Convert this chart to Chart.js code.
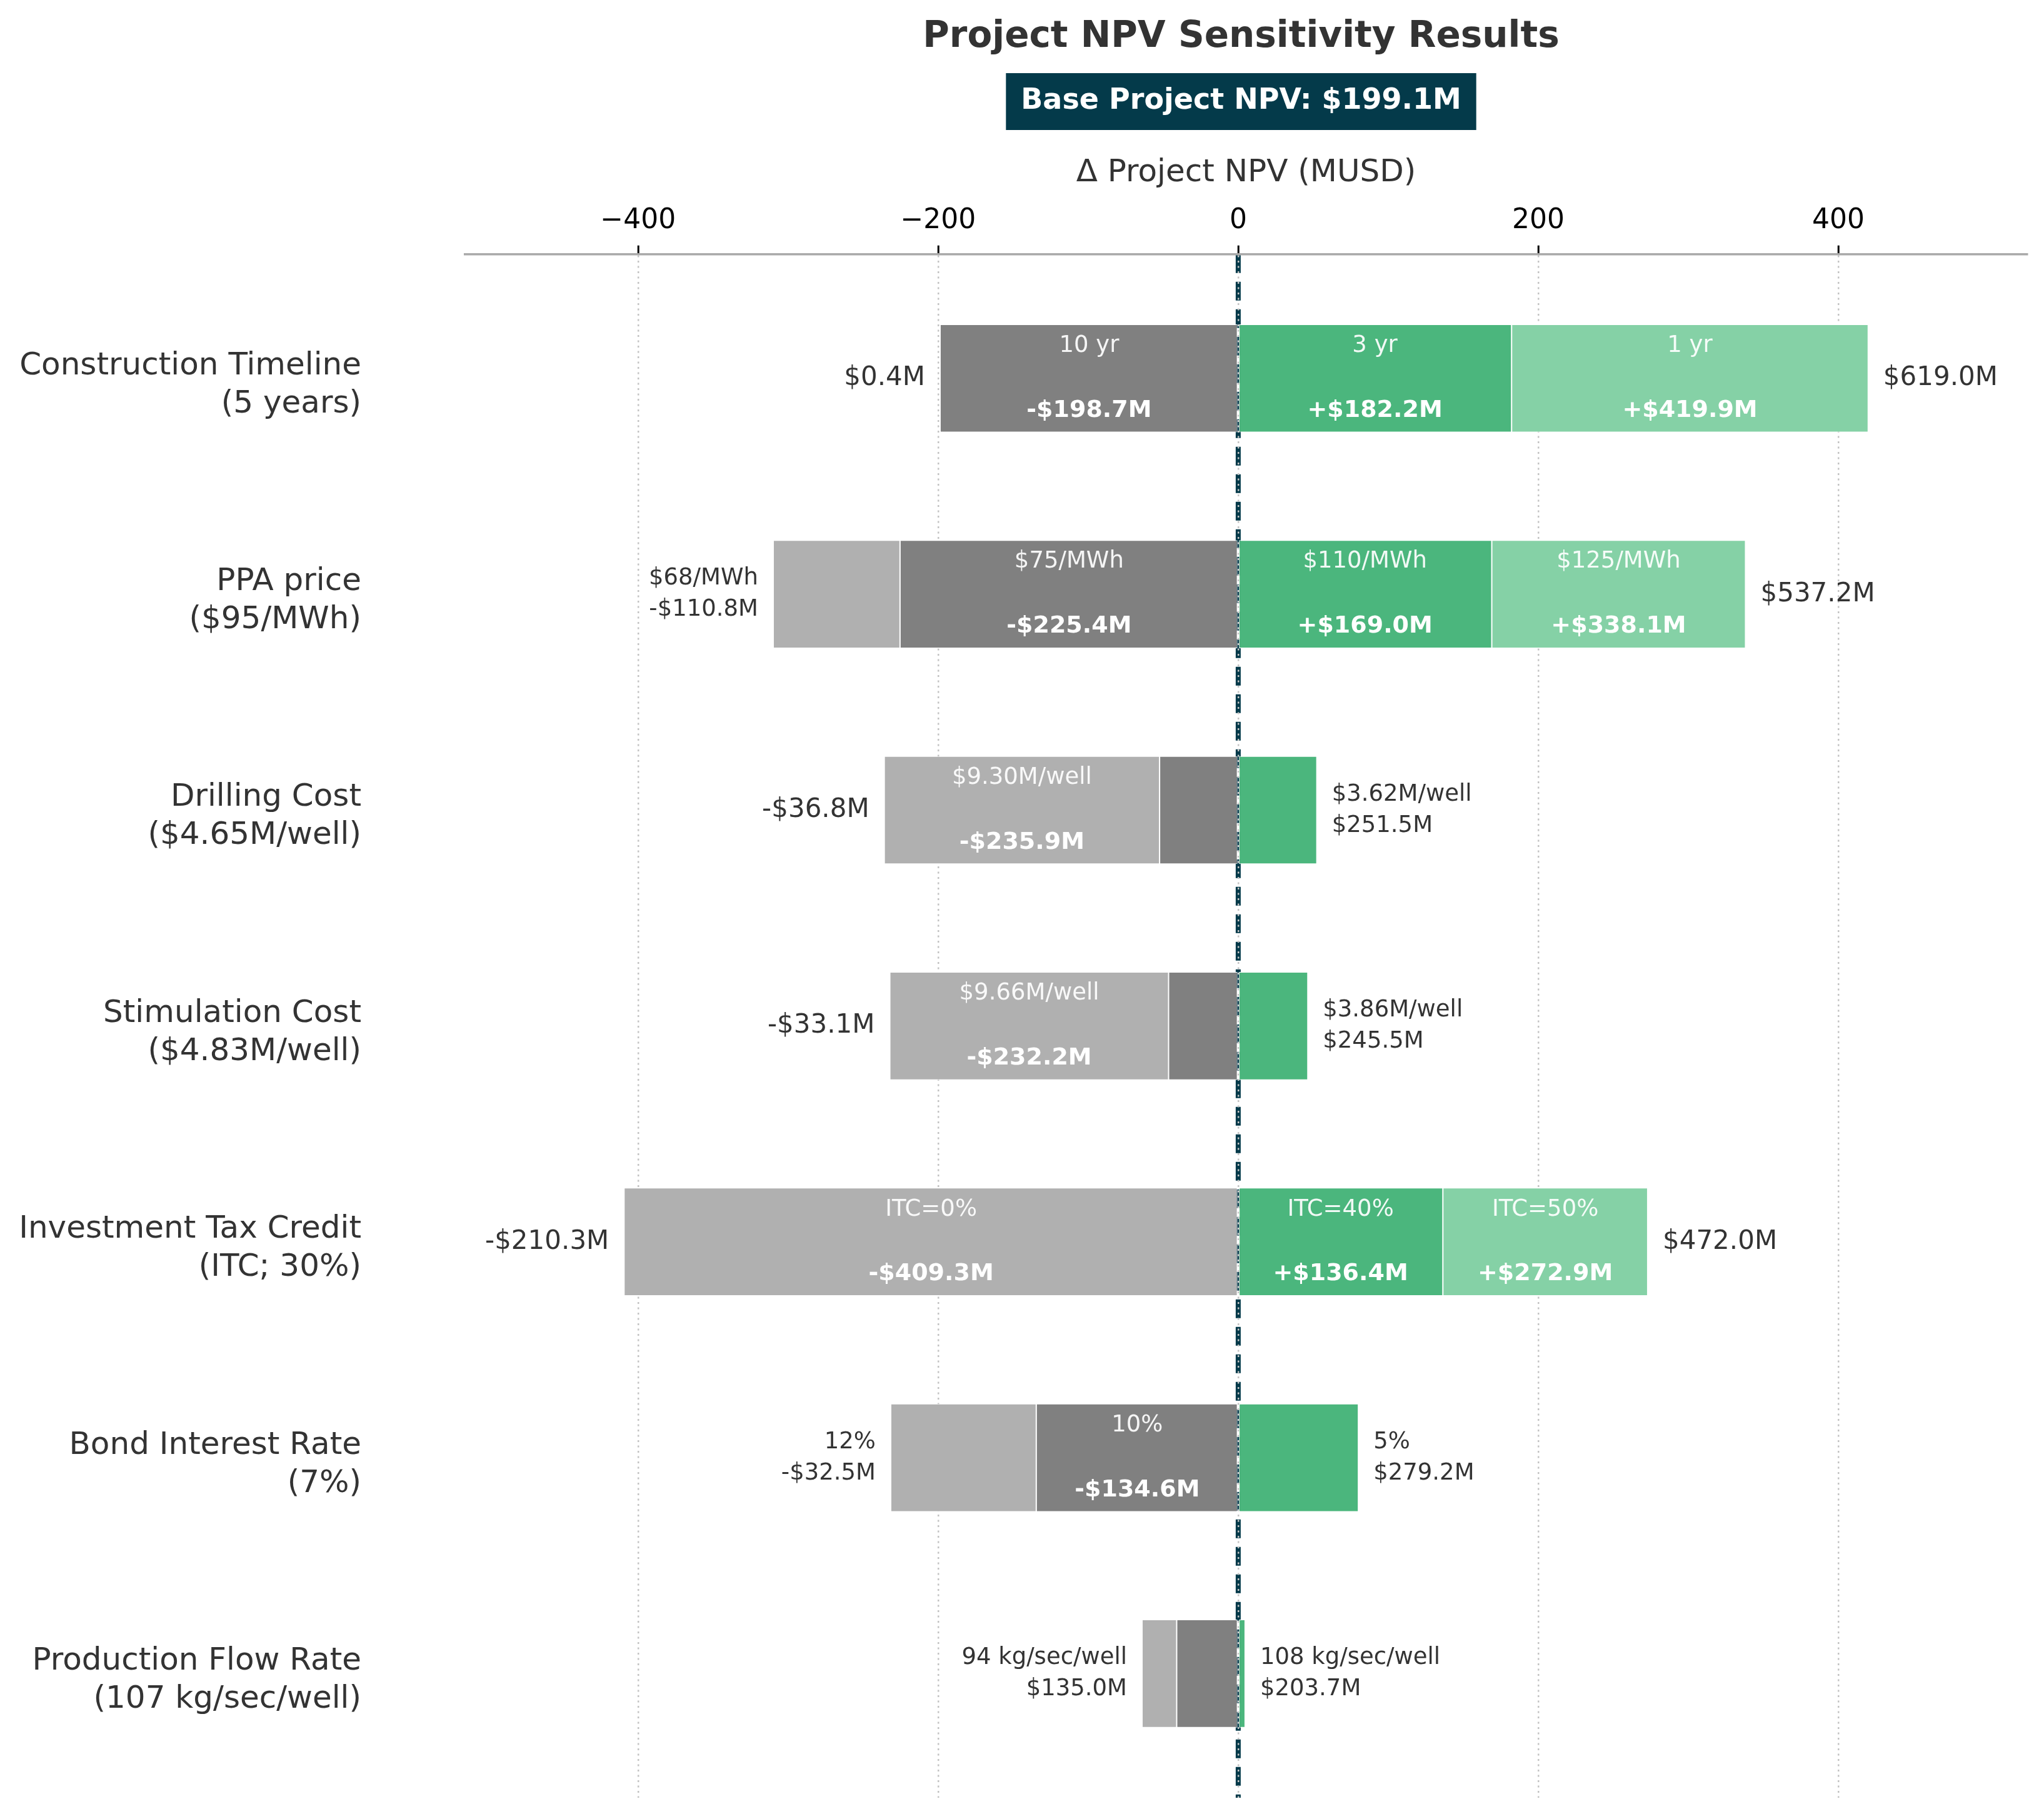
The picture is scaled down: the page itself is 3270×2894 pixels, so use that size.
<!DOCTYPE html>
<html>
<head>
<meta charset="utf-8">
<script src="https://cdn.jsdelivr.net/npm/chart.js@4.4.1/dist/chart.umd.min.js"></script>
<style>
html, body { margin: 0; padding: 0; background: #ffffff; }
#wrap { width: 3270px; height: 2894px; }
</style>
</head>
<body>
<div id="wrap"><canvas id="npvChart" width="3270" height="2894"></canvas></div>
<script>
const chartTitle = 'Project NPV Sensitivity Results';
const axisTitle = 'Δ Project NPV (MUSD)';
const baseNPV = 199.06;

const factors = ['Construction Timeline', 'PPA price', 'Drilling Cost', 'Stimulation Cost', 'Investment Tax Credit', 'Bond Interest Rate', 'Production Flow Rate'];
const baseCases = ['(5 years)', '($95/MWh)', '($4.65M/well)', '($4.83M/well)', '(ITC; 30%)', '(7%)', '(107 kg/sec/well)'];

// Δ NPV (MUSD) at the end of each segment, null = no segment
const lowNear = [-198.7, -225.4, -52.4, -46.4, null, -134.6, -41.0];
const lowFar = [null, -309.9, -235.9, -232.2, -409.34, -231.6, -64.1];
const highNear = [182.2, 169.0, 52.4, 46.4, 136.4, 80.1, 4.6];
const highFar = [419.9, 338.1, null, null, 272.9, null, null];

const lowNearCase = ['10 yr', '$75/MWh', null, null, null, '10%', null];
const lowFarCase = [null, '$68/MWh', '$9.30M/well', '$9.66M/well', 'ITC=0%', '12%', '94 kg/sec/well'];
const highNearCase = ['3 yr', '$110/MWh', '$3.62M/well', '$3.86M/well', 'ITC=40%', '5%', '108 kg/sec/well'];
const highFarCase = ['1 yr', '$125/MWh', null, null, 'ITC=50%', null, null];

const xTicks = [-400, -200, 0, 200, 400];

const FONT = '"DejaVu Sans", "Liberation Sans", sans-serif';
Chart.defaults.font.family = FONT;

function tramo(startArr, endArr) {
    const out = [];
    endArr.forEach((v, i) => {
        if (v === null) return;
        const s = startArr ? (startArr[i] ?? 0) : 0;
        out.push({ y: i, x: [s, v] });
    });
    return out;
}

const segmentos = [
    { start: null, end: lowNear, casos: lowNearCase, color: '#808080' },
    { start: lowNear, end: lowFar, casos: lowFarCase, color: '#b0b0b0' },
    { start: null, end: highNear, casos: highNearCase, color: '#4bb67d' },
    { start: highNear, end: highFar, casos: highFarCase, color: '#85d1a6' }
];

const fmtDelta = v => (v < 0 ? '-' : '+') + '$' + Math.abs(v).toFixed(1) + 'M';
const fmtNPV = v => (v < 0 ? '-' : '') + '$' + Math.abs(v).toFixed(1) + 'M';
const MIN_INSIDE = 110;

// linea discontinua en cero (debajo de la rejilla y las barras)
const zeroLine = {
    id: 'zeroLine',
    beforeDraw(chart) {
        const { ctx, chartArea, scales: { x } } = chart;
        const x0 = x.getPixelForValue(0);
        ctx.save();
        ctx.strokeStyle = '#043a4a';
        ctx.lineWidth = 8;
        ctx.setLineDash([30, 14]);
        ctx.beginPath();
        ctx.moveTo(x0, chartArea.top);
        ctx.lineTo(x0, chartArea.bottom);
        ctx.stroke();
        ctx.restore();
    }
};

const header = {
    id: 'header',
    afterDraw(chart) {
        const { ctx, chartArea } = chart;
        const cx = (chartArea.left + chartArea.right) / 2 - 8;
        ctx.save();
        ctx.textAlign = 'center';
        ctx.textBaseline = 'alphabetic';
        ctx.fillStyle = '#333333';
        ctx.font = 'bold 58px ' + FONT;
        ctx.fillText(chartTitle, cx, 75);
        const badge = 'Base Project NPV: ' + fmtNPV(baseNPV);
        ctx.font = 'bold 46px ' + FONT;
        const w = ctx.measureText(badge).width + 48;
        ctx.fillStyle = '#043a4a';
        ctx.fillRect(cx - w / 2, 117, w, 91);
        ctx.fillStyle = '#ffffff';
        ctx.fillText(badge, cx, 174);
        ctx.restore();
    }
};

const segmentLabels = {
    id: 'segmentLabels',
    afterDatasetsDraw(chart) {
        const { ctx, scales: { x, y } } = chart;
        const barH = chart.getDatasetMeta(0).data[0].height;
        ctx.save();
        ctx.textBaseline = 'middle';
        factors.forEach((_, i) => {
            const yc = y.getPixelForValue(i);
            segmentos.forEach(seg => {
                const e = seg.end[i];
                if (e === null) return;
                const s = seg.start ? (seg.start[i] ?? 0) : 0;
                if (Math.abs(e - s) < MIN_INSIDE || !seg.casos[i]) return;
                const xc = (x.getPixelForValue(s) + x.getPixelForValue(e)) / 2;
                ctx.textAlign = 'center';
                ctx.fillStyle = 'rgba(255,255,255,0.92)';
                ctx.font = '37px ' + FONT;
                ctx.fillText(seg.casos[i], xc, yc - barH * 0.3);
                ctx.fillStyle = '#ffffff';
                ctx.font = 'bold 38px ' + FONT;
                ctx.fillText(fmtDelta(e), xc, yc + barH * 0.3);
            });
            // etiquetas exteriores
            const lados = [
                { end: lowFar[i] ?? lowNear[i], start: lowFar[i] !== null ? (lowNear[i] ?? 0) : 0, caso: lowFar[i] !== null ? lowFarCase[i] : lowNearCase[i], dir: -1 },
                { end: highFar[i] ?? highNear[i], start: highFar[i] !== null ? highNear[i] : 0, caso: highFar[i] !== null ? highFarCase[i] : highNearCase[i], dir: 1 }
            ];
            lados.forEach(l => {
                if (l.end === null) return;
                const px = x.getPixelForValue(l.end) + l.dir * 24;
                ctx.textAlign = l.dir < 0 ? 'right' : 'left';
                ctx.fillStyle = '#333333';
                const npv = fmtNPV(baseNPV + l.end);
                if (Math.abs(l.end - l.start) >= MIN_INSIDE) {
                    ctx.font = '42px ' + FONT;
                    ctx.fillText(npv, px, yc);
                } else {
                    ctx.font = '37px ' + FONT;
                    ctx.fillText(l.caso, px, yc - 25);
                    ctx.fillText(npv, px, yc + 25);
                }
            });
        });
        ctx.restore();
    }
};

const ctx = document.getElementById('npvChart').getContext('2d');
new Chart(ctx, {
    type: 'bar',
    data: {
        datasets: segmentos.map(seg => ({
            data: tramo(seg.start, seg.end),
            backgroundColor: seg.color,
            borderColor: '#ffffff',
            borderWidth: 1,
            borderSkipped: false,
            grouped: false,
            categoryPercentage: 1,
            barPercentage: 0.5
        }))
    },
    options: {
        indexAxis: 'y',
        responsive: false,
        animation: false,
        devicePixelRatio: 1,
        layout: { padding: { left: 0, right: 27, top: 0, bottom: 18 } },
        plugins: {
            legend: { display: false },
            tooltip: { enabled: false },
            title: { display: false }
        },
        scales: {
            x: {
                type: 'linear',
                position: 'top',
                min: -515.3,
                max: 525.8,
                afterBuildTicks: s => { s.ticks = xTicks.map(v => ({ value: v })); },
                ticks: {
                    color: '#000000',
                    font: { size: 44 },
                    padding: 13,
                    callback: v => (v < 0 ? '\u2212' + Math.abs(v) : String(v))
                },
                grid: {
                    color: '#c4c4c4',
                    lineWidth: 2.5,
                    drawTicks: true,
                    tickLength: 14,
                    tickColor: '#000000',
                    tickWidth: 3
                },
                border: { display: true, color: '#aaaaaa', width: 3.5, dash: [3, 5.5] },
                title: {
                    display: true,
                    text: axisTitle,
                    color: '#333333',
                    font: { size: 50 },
                    padding: { top: 247, bottom: 0 }
                },
                afterFit: s => { s.height = 406.7; }
            },
            y: {
                type: 'linear',
                min: -0.575,
                max: 6.575,
                bounds: 'data',
                offset: false,
                reverse: true,
                grid: { display: false, drawTicks: false, offset: false },
                border: { display: false },
                afterBuildTicks: s => { s.ticks = factors.map((_, i) => ({ value: i })); },
                ticks: {
                    autoSkip: false,
                    padding: 166,
                    labelOffset: 11,
                    color: '#333333',
                    font: { size: 50, lineHeight: 1.22 },
                    callback: v => (factors[v] ? [factors[v], baseCases[v]] : '')
                },
                afterFit: s => {
                    s.width = 744;
                    s.paddingTop = 0;
                    s.paddingBottom = 0;
                }
            }
        }
    },
    plugins: [zeroLine, segmentLabels, header]
});
</script>
</body>
</html>
